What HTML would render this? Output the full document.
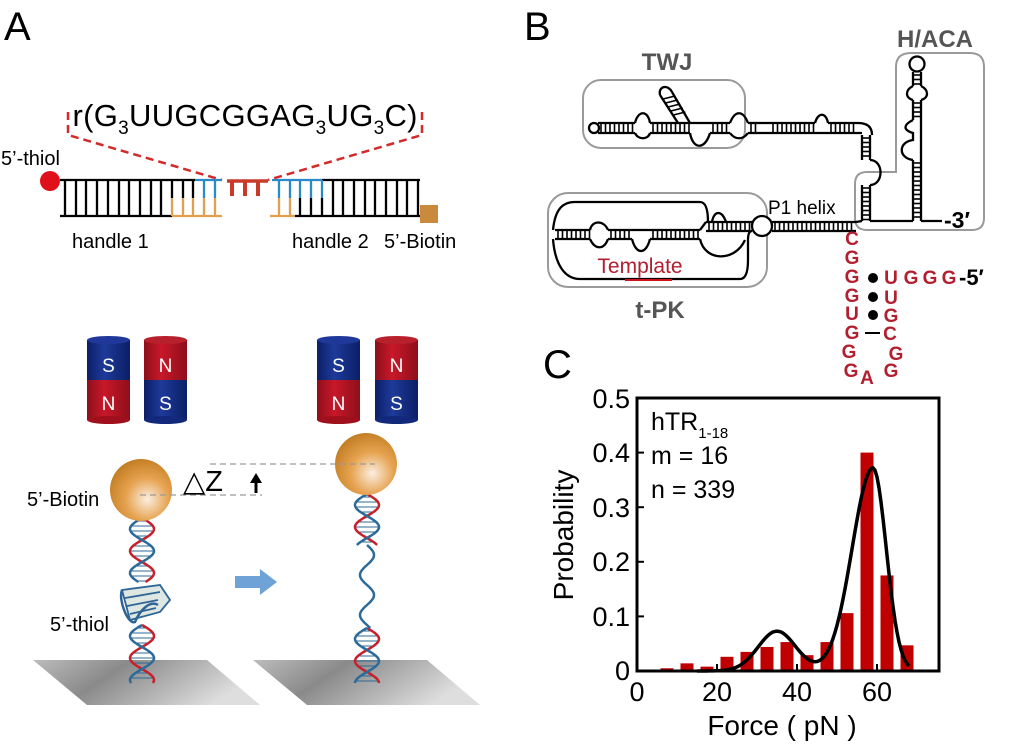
<!DOCTYPE html>
<html><head><meta charset="utf-8"><style>
body{margin:0;background:#fff;width:1015px;height:746px;overflow:hidden}
svg{display:block}
text{font-family:"Liberation Sans",sans-serif}
</style></head><body>
<svg id="s" width="1015" height="746" viewBox="0 0 1015 746" xmlns="http://www.w3.org/2000/svg">
<defs>
<radialGradient id="bead" cx="0.6" cy="0.65" r="0.7">
<stop offset="0" stop-color="#fbeee0"/><stop offset="0.5" stop-color="#e6a24f"/><stop offset="1" stop-color="#c07a20"/>
</radialGradient>
<linearGradient id="surf" x1="0" y1="0" x2="1" y2="0.3">
<stop offset="0" stop-color="#bcbcbc"/><stop offset="0.4" stop-color="#8a8a8a"/><stop offset="1" stop-color="#dedede"/>
</linearGradient>
<linearGradient id="red" x1="0" x2="1"><stop offset="0" stop-color="#8e0f1a"/><stop offset="0.4" stop-color="#c8182a"/><stop offset="1" stop-color="#8e0f1a"/></linearGradient>
<linearGradient id="blue" x1="0" x2="1"><stop offset="0" stop-color="#0b1f66"/><stop offset="0.4" stop-color="#1e3a9a"/><stop offset="1" stop-color="#0b1f66"/></linearGradient>
</defs>

<text x="4" y="40" font-size="40">A</text>
<text x="524" y="40" font-size="40">B</text>
<text x="543" y="378" font-size="40">C</text>

<text x="245" y="126" font-size="31" text-anchor="middle" textLength="345">r(G<tspan font-size="19" dy="8">3</tspan><tspan dy="-8">UUGCGGAG</tspan><tspan font-size="19" dy="8">3</tspan><tspan dy="-8">UG</tspan><tspan font-size="19" dy="8">3</tspan><tspan dy="-8">C)</tspan></text>
<g stroke="#d42a2a" stroke-width="2.5" stroke-dasharray="8,5" fill="none">
<path d="M68,112 V135 L222,180"/><path d="M422,112 V135 L268,180"/>
</g>
<g id="ladder" stroke-width="2.3" fill="none"></g>
<circle cx="50" cy="181" r="10" fill="#e0101a"/>
<rect x="420" y="205" width="18" height="18" fill="#c98a3d"/>
<text x="1" y="165" font-size="20">5’-thiol</text>
<text x="72" y="248" font-size="20">handle 1</text>
<text x="292" y="248" font-size="20">handle 2</text>
<text x="384" y="248" font-size="20">5’-Biotin</text>

<g id="mags"></g>

<polygon points="33,660 207,660 260,705 87,705" fill="url(#surf)"/>
<polygon points="253,660 427,660 480,705 307,705" fill="url(#surf)"/>

<g id="helix"></g>

<g stroke="#2e6596" stroke-width="1.8" fill="#dfe7e2">
<path d="M122,590 L160,585 L170,600 L160,612 L130,620 Z"/>
<path d="M125,598 L160,592 M127,606 L158,600 M130,614 L156,608" fill="none"/>
<path d="M122,590 C118,600 128,625 135,622 C140,610 150,600 158,605" fill="none" stroke-width="2.5"/>
</g>

<circle cx="141" cy="490" r="31" fill="url(#bead)"/>
<circle cx="366" cy="464" r="31" fill="url(#bead)"/>
<g stroke="#9a9a9a" stroke-width="1.2" stroke-dasharray="6,4">
<line x1="140" y1="495" x2="262" y2="495"/><line x1="210" y1="464" x2="375" y2="464"/>
</g>
<text x="183" y="491" font-size="29">△Z</text>
<path d="M256,493 V482" stroke="#000" stroke-width="3"/><polygon points="250,483 262,483 256,473" fill="#000"/>
<text x="27" y="506" font-size="20">5’-Biotin</text>
<text x="50" y="631" font-size="20">5’-thiol</text>
<polygon points="235,576 260,576 260,569 277,582 260,595 260,588 235,588" fill="#6fa3d8"/>

<text x="667" y="70" font-size="24" font-weight="bold" fill="#555" text-anchor="middle">TWJ</text>
<text x="935" y="47" font-size="24" font-weight="bold" fill="#555" text-anchor="middle">H/ACA</text>
<text x="660" y="318" font-size="24" font-weight="bold" fill="#555" text-anchor="middle">t-PK</text>
<g fill="none" stroke="#9a9a9a" stroke-width="2">
<rect x="583" y="80" width="162" height="68" rx="18"/>
<rect x="548" y="193" width="219" height="94" rx="20"/>
<path d="M911,53 H970 Q984,53 984,67 V218 Q984,230 972,230 H867 Q855,230 855,218 V184 Q855,172 867,172 H896 V67 Q896,53 911,53 Z"/>
</g>
<g id="rna" fill="none" stroke="#000" stroke-width="2.3"></g>
<text x="768" y="214" font-size="19">P1 helix</text>
<text x="640" y="273" font-size="21" fill="#b02030" text-anchor="middle">Template</text>
<line x1="625" y1="280" x2="672" y2="280" stroke="#d0101a" stroke-width="2"/>
<text x="944" y="228" font-size="23" font-weight="bold">-3′</text>
<g font-size="19" font-weight="bold" fill="#b22030" text-anchor="middle">
<text x="852" y="245">C</text><text x="852" y="264">G</text><text x="852" y="283">G</text><text x="852" y="302">G</text><text x="852" y="320">U</text><text x="852" y="339">G</text><text x="849" y="358">G</text><text x="851" y="377">G</text>
<text x="891" y="284">U</text><text x="911" y="284">G</text><text x="930" y="284">G</text><text x="949" y="284">G</text>
<text x="891" y="304">U</text><text x="891" y="322">G</text><text x="890" y="340">C</text><text x="896" y="360">G</text><text x="891" y="377">G</text>
<text x="867" y="384">A</text>
</g>
<text x="959" y="285" font-size="22" font-weight="bold">-5′</text>
<circle cx="873" cy="278" r="5"/><circle cx="873" cy="297" r="5"/><circle cx="873" cy="315" r="5"/>
<line x1="865" y1="333" x2="880" y2="333" stroke="#000" stroke-width="2"/>

<g id="plot"></g>
<rect x="637" y="398" width="302" height="273" fill="none" stroke="#000" stroke-width="3"/>
<g font-size="27" text-anchor="end">
<text x="630" y="680">0</text><text x="630" y="626">0.1</text><text x="630" y="571">0.2</text><text x="630" y="517">0.3</text><text x="630" y="462">0.4</text><text x="630" y="408">0.5</text>
</g>
<g font-size="27" text-anchor="middle">
<text x="637" y="701">0</text><text x="717" y="701">20</text><text x="797" y="701">40</text><text x="877" y="701">60</text>
</g>
<text x="782" y="735" font-size="28" text-anchor="middle">Force ( pN )</text>
<text transform="translate(573,535) rotate(-90)" font-size="28" text-anchor="middle">Probability</text>
<text x="651" y="430" font-size="25">hTR<tspan font-size="15" dy="8">1-18</tspan></text>
<text x="651" y="464" font-size="25">m = 16</text>
<text x="651" y="498" font-size="25">n = 339</text>
</svg>
<script>
(function(){
var NS="http://www.w3.org/2000/svg";
function el(p,t,a){var e=document.createElementNS(NS,t);for(var k in a)e.setAttribute(k,a[k]);p.appendChild(e);return e;}
var L=document.getElementById('ladder');
var paths={'#000':'','#2a8ac8':'','#e0a050':''};
function seg(c,x1,y1,x2,y2){paths[c]+='M'+x1+','+y1+'L'+x2+','+y2;}
seg('#000',60,180,195,180);seg('#2a8ac8',195,180,222,180);seg('#2a8ac8',272,180,322,180);seg('#000',322,180,420,180);
seg('#000',60,216,172,216);seg('#e0a050',172,216,222,216);seg('#e0a050',270,216,295,216);seg('#000',295,216,420,216);
for(var i=0;i<34;i++){var x=Math.round(65+i*10.7);
 if(x>222&&x<270)continue;
 var tc='#000',bc='#000';
 if(x>=195&&x<=222)tc='#2a8ac8'; if(x>=272&&x<=322)tc='#2a8ac8';
 if(x>=172&&x<=222)bc='#e0a050'; if(x>=270&&x<=295)bc='#e0a050';
 seg(tc,x,180,x,198);seg(bc,x,198,x,216);}
for(var c in paths)el(L,'path',{d:paths[c],stroke:c});
el(L,'path',{d:'M227,181H268',stroke:'#c83a2a','stroke-width':3.5});
[232,245,258].forEach(function(x){el(L,'path',{d:'M'+x+',181V196',stroke:'#c83a2a','stroke-width':4});});
var M=document.getElementById('mags');
function mag(x,topc,tt,botc,bt){
 var w=43;
 el(M,'rect',{x:x,y:340,width:w,height:40,fill:'url(#'+topc+')'});
 el(M,'rect',{x:x,y:380,width:w,height:40,fill:'url(#'+botc+')'});
 el(M,'ellipse',{cx:x+w/2,cy:420,rx:w/2,ry:4,fill:botc=='red'?'#a0101c':'#12287a'});
 el(M,'ellipse',{cx:x+w/2,cy:340,rx:w/2,ry:4,fill:topc=='red'?'#b8202c':'#20389a'});
 var t=el(M,'text',{x:x+w/2,y:372,'font-size':19,fill:'#fff','text-anchor':'middle'});t.textContent=tt;
 t=el(M,'text',{x:x+w/2,y:410,'font-size':19,fill:'#fff','text-anchor':'middle'});t.textContent=bt;
}
mag(87,'blue','S','red','N');mag(144,'red','N','blue','S');
mag(317,'blue','S','red','N');mag(375,'red','N','blue','S');
var H=document.getElementById('helix');
function helix(cx,y0,y1,per){
 var a='',b='';
 for(var y=y0;y<=y1;y+=1){var ph=(y-y0)/per*2*Math.PI;
  var xa=cx+12*Math.sin(ph),xb=cx-12*Math.sin(ph);
  a+=(y==y0?'M':'L')+xa.toFixed(1)+','+y;b+=(y==y0?'M':'L')+xb.toFixed(1)+','+y;}
 for(var y=y0+3;y<y1;y+=5){var ph=(y-y0)/per*2*Math.PI;var w=12*Math.abs(Math.sin(ph));
  if(w>3)el(H,'line',{x1:cx-w,y1:y,x2:cx+w,y2:y,stroke:'#2c6a99','stroke-width':1});}
 el(H,'path',{d:a,fill:'none',stroke:'#c8202a','stroke-width':2.5});
 el(H,'path',{d:b,fill:'none',stroke:'#2c6a99','stroke-width':2.5});
}
helix(142,518,582,44);helix(142,625,683,44);
helix(367,494,545,44);helix(367,628,683,44);
var w='M367,545';for(var y=545;y<=628;y++){w+='L'+(367+7*Math.sin((y-545)/40*2*Math.PI)).toFixed(1)+','+y;}
el(H,'path',{d:w,fill:'none',stroke:'#2c6a99','stroke-width':2.5});
var R=document.getElementById('rna');
function hl(x0,x1,y,gap){el(R,'line',{x1:x0,y1:y,x2:x1,y2:y});el(R,'line',{x1:x0,y1:y+gap,x2:x1,y2:y+gap});
 for(var x=x0+3;x<x1;x+=4.5)el(R,'line',{x1:x,y1:y,x2:x,y2:y+gap,'stroke-width':1.6});}
function vl(x,y0,y1,gap){el(R,'line',{x1:x,y1:y0,x2:x,y2:y1});el(R,'line',{x1:x+gap,y1:y0,x2:x+gap,y2:y1});
 for(var y=y0+3;y<y1;y+=4.5)el(R,'line',{x1:x,y1:y,x2:x+gap,y2:y,'stroke-width':1.6});}
hl(598,635,123,10);hl(650,690,123,10);hl(710,730,123,10);hl(748,760,123,10);hl(770,815,123,10);hl(828,858,123,10);
el(R,'circle',{cx:594,cy:128,r:5});
el(R,'path',{d:'M635,123 C638,110 648,110 650,123 M635,133 C638,140 648,140 650,133'});
el(R,'path',{d:'M690,123 L710,123 M690,133 C693,150 705,150 710,133'});
el(R,'path',{d:'M730,123 C735,110 743,110 748,123 M730,133 C735,140 743,140 748,133'});
el(R,'path',{d:'M760,123 L770,123 M760,133 L770,133'});
el(R,'path',{d:'M815,123 C818,112 826,112 828,123 M815,133 L828,133'});
el(R,'path',{d:'M858,123 Q872,123 872,135 M858,133 L862,133'});
el(R,'path',{d:'M678,123 L660,95 M690,123 L672,92'});
for(var i=0;i<5;i++)el(R,'line',{x1:663+i*2.6,y1:99+i*4,x2:675+i*2.6,y2:96+i*4,'stroke-width':1.6});
el(R,'path',{d:'M660,95 C658,86 668,84 672,92'});
vl(862,135,160,8);vl(862,185,221,8);
el(R,'path',{d:'M870,160 C884,160 884,185 870,185'});
hl(706,752,222,9);hl(772,856,222,9);
el(R,'circle',{cx:762,cy:226,r:10,fill:'#fff'});
el(R,'line',{x1:856,y1:222,x2:862,y2:221});
hl(555,590,230,9);hl(608,632,230,9);hl(650,700,230,9);
el(R,'path',{d:'M590,230 C592,220 604,220 608,230 M590,239 C595,250 604,250 608,239'});
el(R,'path',{d:'M632,230 L650,230 M632,239 C636,255 646,255 650,239'});
el(R,'path',{d:'M712,222 C714,210 722,210 726,222'});
el(R,'path',{d:'M700,230 L706,222'});
el(R,'path',{d:'M553,230 C555,210 562,202 575,202 H700 Q708,202 708,222'});
el(R,'path',{d:'M553,239 C555,265 565,279 580,279 H740 Q748,279 748,260 V240 Q748,231 752,231'});
el(R,'path',{d:'M700,239 C705,262 735,262 745,240'});
vl(913,72,86,8);vl(913,100,120,8);vl(913,160,221,8);
el(R,'circle',{cx:917,cy:64,r:7.5,fill:'#fff'});
el(R,'path',{d:'M913,86 C905,90 905,98 913,100 M921,86 C929,90 929,98 921,100'});
el(R,'path',{d:'M913,120 C903,125 903,130 913,133 L913,140 C898,142 898,158 913,160 M921,120 V160'});
el(R,'line',{x1:870,y1:221,x2:913,y2:221});el(R,'line',{x1:921,y1:221,x2:942,y2:221});
var P=document.getElementById('plot');
var hs=[0.005,0.014,0.008,0.026,0.035,0.044,0.053,0.029,0.053,0.106,0.40,0.175,0.047];
function X(f){return 637+f*4;}function Y(p){return 671-p*546;}
hs.forEach(function(h,i){var c=7.5+5*i;el(P,'rect',{x:X(c)-6.5,y:Y(h),width:13,height:671-Y(h),fill:'#c00000'});});
var d='';for(var f=15;f<=68;f+=0.5){var s2=f<59?5.2:3.3;
 var p=0.073*Math.exp(-Math.pow(f-35,2)/(2*22))+0.372*Math.exp(-Math.pow(f-59,2)/(2*s2*s2));
 d+=(f==15?'M':'L')+X(f).toFixed(1)+','+Y(p).toFixed(1);}
el(P,'path',{d:d,fill:'none',stroke:'#000','stroke-width':3.5});
[20,40,60].forEach(function(f){el(P,'line',{x1:X(f),y1:671,x2:X(f),y2:664,stroke:'#000','stroke-width':2});});
[0.1,0.2,0.3,0.4].forEach(function(p){el(P,'line',{x1:637,y1:Y(p),x2:644,y2:Y(p),stroke:'#000','stroke-width':2});});
})();
</script>
</body></html>
